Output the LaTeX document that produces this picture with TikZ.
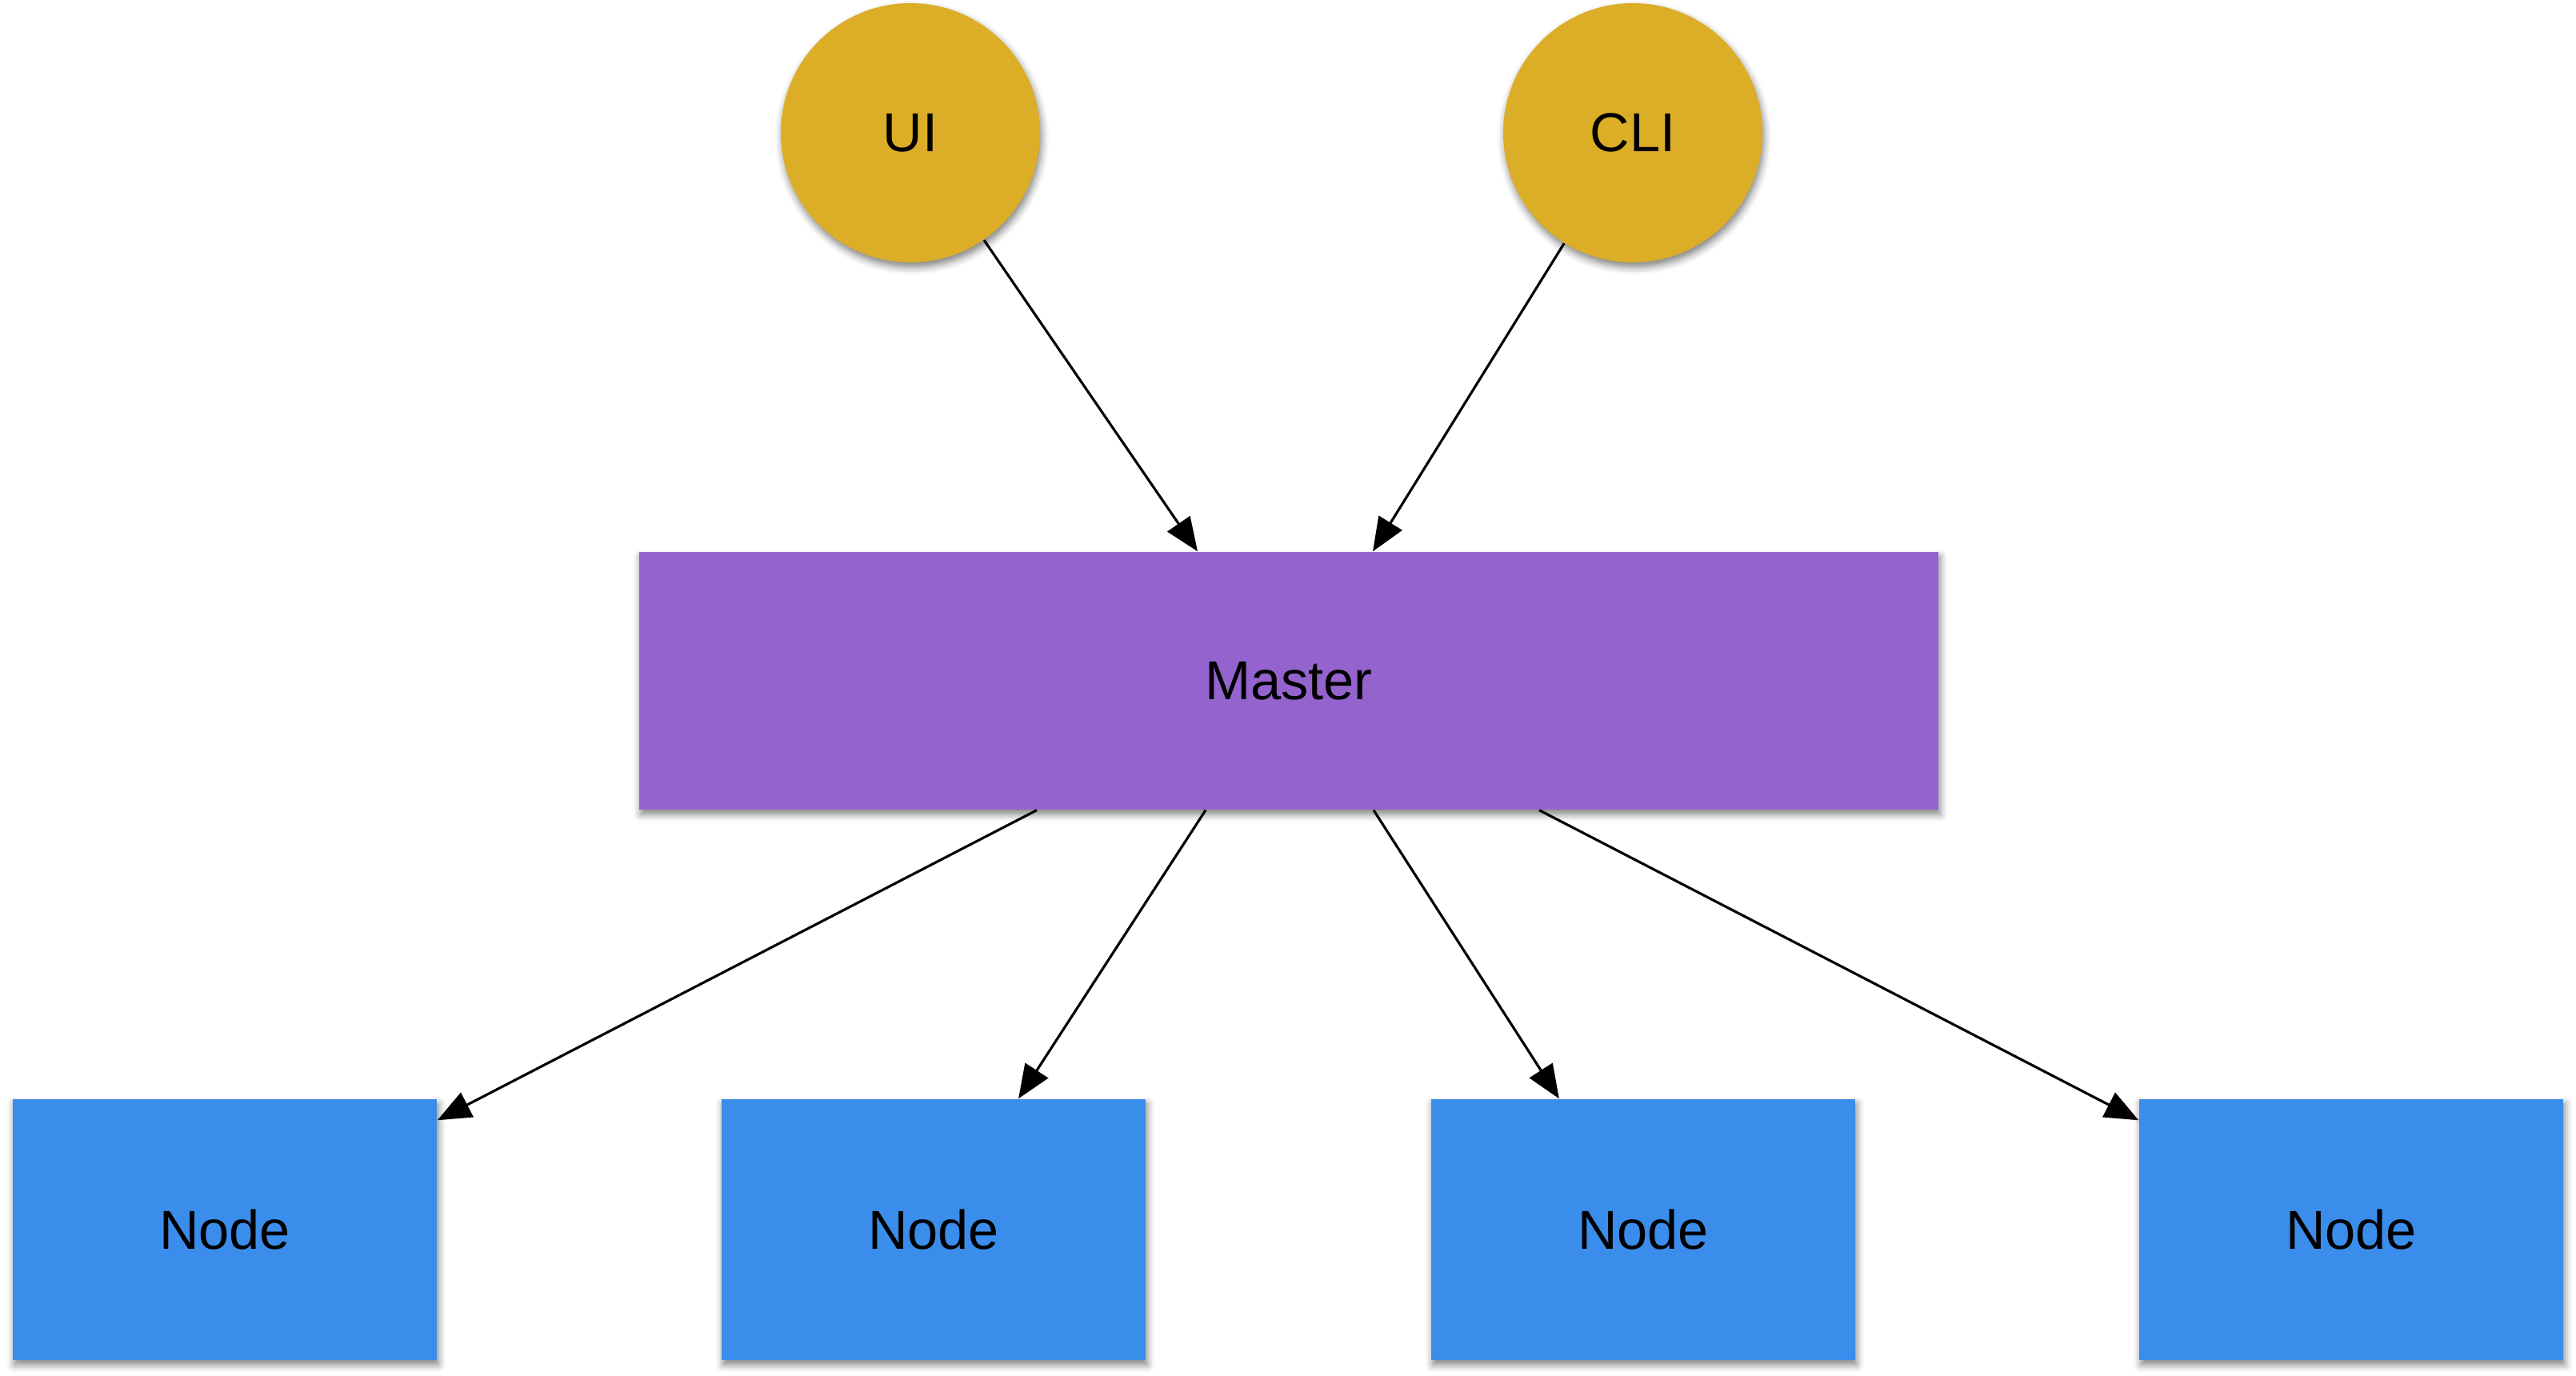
\documentclass[tikz,border=0pt]{standalone}
\usepackage{fontspec}
\setmainfont{Liberation Sans}
\usepackage{tikz}
\usetikzlibrary{positioning, shapes, arrows.meta, shadows.blur}

\definecolor{clientgold}{RGB}{220,174,39}
\definecolor{masterpurple}{RGB}{149,99,206}
\definecolor{nodeblue}{RGB}{59,141,235}

\tikzset{
  client/.style={circle, fill=clientgold, minimum size=3.24cm, inner sep=0pt,
    blur shadow={shadow xshift=0.02cm, shadow yshift=-0.06cm, shadow blur radius=0.09cm, shadow opacity=50}},
  masterbox/.style={rectangle, fill=masterpurple, minimum width=16.24cm, minimum height=3.22cm, inner sep=0pt,
    blur shadow={shadow xshift=0.02cm, shadow yshift=-0.06cm, shadow blur radius=0.09cm, shadow opacity=50}},
  workerbox/.style={rectangle, fill=nodeblue, minimum width=5.30cm, minimum height=3.26cm, inner sep=0pt,
    blur shadow={shadow xshift=0.02cm, shadow yshift=-0.06cm, shadow blur radius=0.09cm, shadow opacity=50}},
  link/.style={-{Triangle[length=0.42cm, width=0.34cm]}, line width=0.9pt, black}
}

\begin{document}
\begin{tikzpicture}[font=\fontsize{19.5}{23}\selectfont]
      \useasboundingbox (0,0) rectangle (32.2,17.2);
      \node[client] (ui) at (11.38,15.54) {UI};
      \node[client] (cli) at (20.41,15.54) {CLI};
      \node[masterbox] (master) at (16.11,8.69) {Master};
      \node[workerbox] (n1) at (2.81,1.83) {Node};
      \node[workerbox] (n2) at (11.67,1.83) {Node};
      \node[workerbox] (n3) at (20.54,1.83) {Node};
      \node[workerbox] (n4) at (29.39,1.83) {Node};
      \draw[link] (ui) -- ([xshift=-1.14cm]master.north);
      \draw[link] (cli) -- ([xshift=1.05cm]master.north);
      \draw[link] ([xshift=-3.15cm]master.south) -- (n1);
      \draw[link] ([xshift=-1.04cm]master.south) -- (n2);
      \draw[link] ([xshift=1.06cm]master.south) -- (n3);
      \draw[link] ([xshift=3.13cm]master.south) -- (n4);
    \end{tikzpicture}
\end{document}
